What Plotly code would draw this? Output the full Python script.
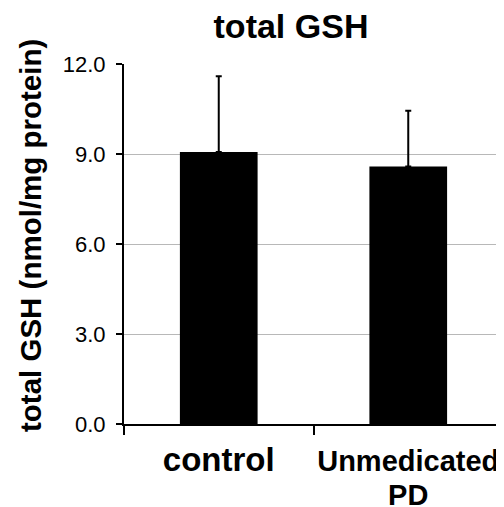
import plotly.graph_objects as go

categories = ["control", "Unmedicated<br>PD"]
tick_labels = [
    "<b><span style='font-size:33px'>control</span></b>",
    "<b><span style='font-size:29px'>Unmedicated</span><br><span style='font-size:29px'>PD</span></b>",
]
means = [9.07, 8.58]
errors_plus = [2.52, 1.86]
errors_minus = [0, 0]
y_ticks = [0, 3, 6, 9, 12]
y_tick_labels = ["0.0", "3.0", "6.0", "9.0", "12.0"]

FONT = "Liberation Sans, Arial, Helvetica, sans-serif"

# page body has an 8px default margin; size the figure to fit the window
W, H = 496, 499
L, T, PW, PH = 116, 56, 379, 360

fig = go.Figure()
fig.add_trace(go.Bar(
    x=categories,
    y=means,
    width=0.41,
    marker=dict(color="black", line=dict(width=0)),
    error_y=dict(type="data", array=errors_plus, arrayminus=errors_minus,
                 symmetric=False, color="black", thickness=2, width=3),
))

fig.update_layout(
    width=W, height=H,
    margin=dict(l=L, r=W - L - PW, t=T, b=H - T - PH, autoexpand=False),
    paper_bgcolor="white", plot_bgcolor="white",
    showlegend=False,
    font=dict(family=FONT, color="black"),
    title=dict(text="<b>total GSH</b>", font=dict(size=34, family=FONT, color="black"),
               x=(291 - 8) / W, xanchor="center", xref="container",
               y=1 - (26 - 8) / H, yanchor="middle", yref="container"),
    xaxis=dict(
        type="category",
        automargin=False,
        tickangle=0,
        tickson="boundaries",
        ticks="outside", ticklen=9, tickwidth=2, tickcolor="black",
        showline=True, linecolor="black", linewidth=2,
        showgrid=False,
        tickfont=dict(size=26, family=FONT, color="black"),
        ticktext=tick_labels,
        tickvals=categories,
        ticklabelstandoff=14,
        range=[-0.5, 1.5],
    ),
    yaxis=dict(
        range=[0, 12],
        automargin=False,
        tickvals=y_ticks, ticktext=y_tick_labels,
        ticks="outside", ticklen=6, tickwidth=2, tickcolor="black",
        ticklabelstandoff=6,
        showline=True, linecolor="black", linewidth=2,
        showgrid=True, gridcolor="#b8b8b8", gridwidth=1,
        tickfont=dict(size=22, family=FONT, color="black"),
        zeroline=False,
    ),
    annotations=[dict(
        text="<b>total GSH (nmol/mg protein)</b>",
        textangle=-90, showarrow=False,
        xref="paper", yref="paper",
        x=(30 - 8 - L) / PW, y=1 - (236 - 8 - T) / PH,
        xanchor="center", yanchor="middle",
        font=dict(size=29.5, family=FONT, color="black"),
    )],
)

fig.write_html("out.html")
